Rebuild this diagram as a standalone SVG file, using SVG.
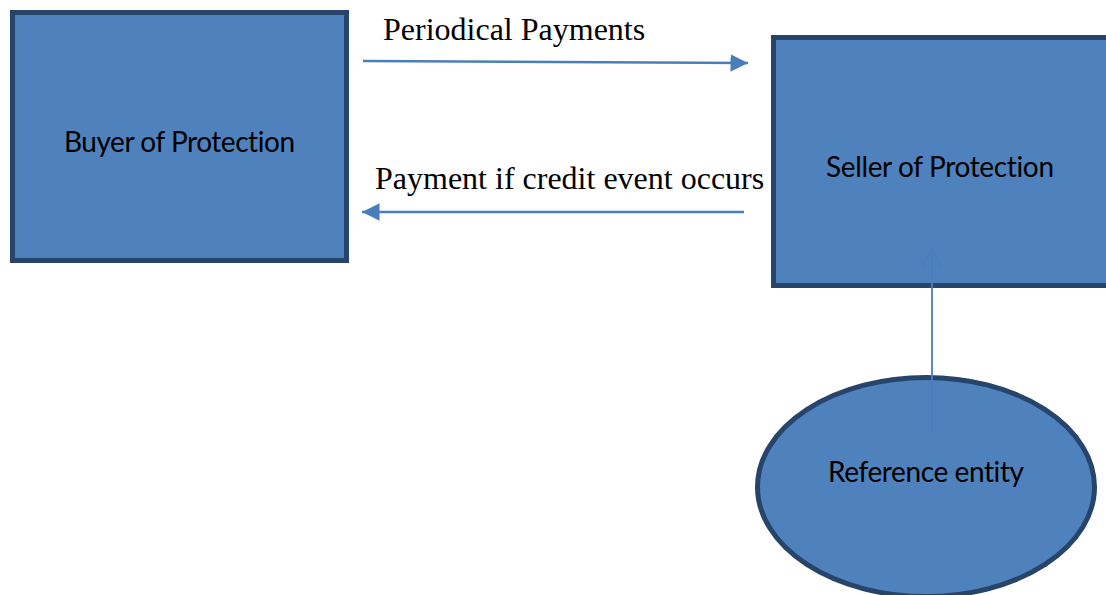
<svg xmlns="http://www.w3.org/2000/svg" width="1106" height="595" viewBox="0 0 1106 595">
<style>
.node{fill:#4F81BD;stroke:#27446A;stroke-width:5}
.lbl{font-family:Lato,"Open Sans",sans-serif;font-size:28px;fill:#000;text-anchor:middle;font-variant-ligatures:none;font-feature-settings:"liga" 0,"clig" 0,"dlig" 0}
.edge{font-family:"Liberation Serif","Times New Roman",serif;font-size:32px;fill:#000}
.conn{stroke:#4A7EBB;stroke-width:2.5;fill:none}
</style>
<defs>
<marker id="tri" viewBox="0 0 10 10" refX="10" refY="5" markerWidth="7" markerHeight="7" markerUnits="strokeWidth" orient="auto">
<path d="M0,0 L10,5 L0,10 z" fill="#4A7EBB"/>
</marker>
</defs>
<rect width="1106" height="595" fill="#fff"/>
<g id="buyer">
<rect class="node" x="12.5" y="12.5" width="334" height="248"/>
<text class="lbl" x="179.5" y="152" textLength="231">Buyer of Protection</text>
</g>
<g id="seller">
<rect class="node" x="773.5" y="37.5" width="340" height="248"/>
<text class="lbl" x="940" y="177" textLength="228">Seller of Protection</text>
</g>
<g id="reference">
<ellipse class="node" cx="926" cy="487" rx="168.5" ry="109.5"/>
<text class="lbl" x="926" y="482" textLength="196">Reference entity</text>
</g>
<g id="connectors">
<line class="conn" x1="363" y1="61" x2="748" y2="63" marker-end="url(#tri)"/>
<text class="edge" x="383" y="40">Periodical Payments</text>
<line class="conn" x1="744" y1="212" x2="362" y2="212" marker-end="url(#tri)"/>
<text class="edge" x="375" y="189">Payment if credit event occurs</text>
<line x1="932" y1="432" x2="932" y2="249" stroke="#4A7EBB" stroke-width="2" opacity="0.9"/>
<path d="M922,267 L932,249 L942,267" fill="none" stroke="#4A7EBB" stroke-width="2" opacity="0.9"/>
</g>
</svg>
